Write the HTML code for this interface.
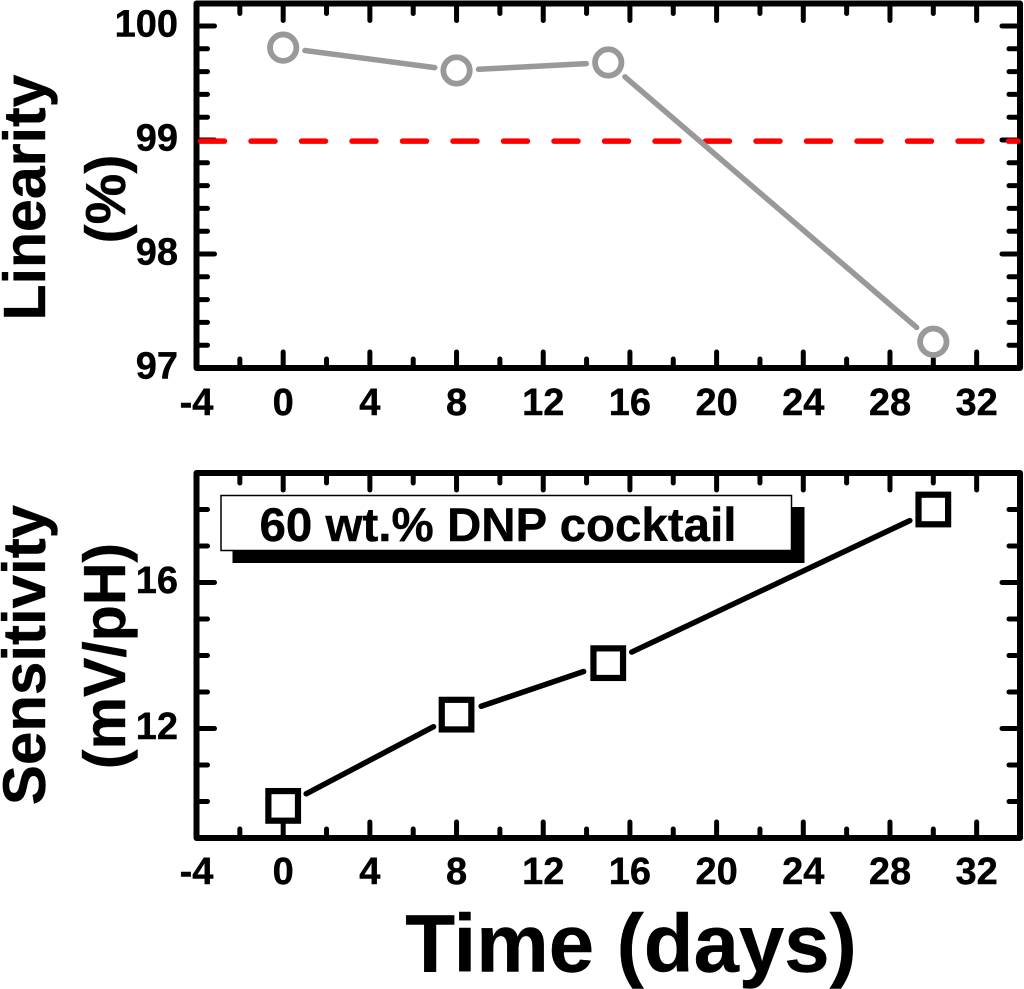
<!DOCTYPE html>
<html lang="en">
<head>
<meta charset="utf-8">
<title>Linearity and sensitivity over time</title>
<style>
html,body{margin:0;padding:0;background:#fff;}
svg{display:block;}
text{font-family:"Liberation Sans",Arial,sans-serif;font-weight:bold;fill:#000;stroke:#000;stroke-width:0.4px;}
</style>
</head>
<body>
<svg id="chart" xmlns="http://www.w3.org/2000/svg" width="1024" height="989" viewBox="0 0 1024 989">
  <g id="top-panel"></g>
  <g id="bottom-panel"></g>
  <text transform="translate(45,197.5) rotate(-90)" text-anchor="middle" font-size="59">Linearity</text>
  <text transform="translate(125,199) rotate(-90)" text-anchor="middle" font-size="57">(%)</text>
  <text transform="translate(45,655) rotate(-90)" text-anchor="middle" font-size="60">Sensitivity</text>
  <text transform="translate(125,656) rotate(-90)" text-anchor="middle" font-size="59">(mV/pH)</text>
  <text x="631" y="971.5" text-anchor="middle" font-size="81.5">Time (days)</text>
  <g>
    <rect x="232.5" y="507" width="572" height="56" fill="#000"/>
    <rect x="221" y="495.5" width="570.5" height="55" fill="#fff" stroke="#000" stroke-width="1.5"/>
    <text x="498" y="541" text-anchor="middle" font-size="47.5">60 wt.% DNP cocktail</text>
  </g>
</svg>
<script>
// x-axis (shared)
const days = [0, 8, 15, 30];
const xMajorTicks = [-4, 0, 4, 8, 12, 16, 20, 24, 28, 32];
const xMinorTicks = [-2, 2, 6, 10, 14, 18, 22, 26, 30];
const xDomain = [-4, 34];

// linearity panel
const linearityValues = [99.81, 99.61, 99.68, 97.23];
const linearityThreshold = [98.99];
const linearityMajorTicks = [97, 98, 99, 100];
const linearityMinorTicks = [97.2, 97.4, 97.6, 97.8, 98.2, 98.4, 98.6, 98.8, 99.2, 99.4, 99.6, 99.8];
const linearityDomain = [97, 100.2];

// sensitivity panel
const sensitivityValues = [9.88, 12.38, 13.79, 18.0];
const sensitivityMajorTicks = [12, 16];
const sensitivityMinorTicks = [10, 11, 13, 14, 15, 17, 18];
const sensitivityDomain = [9, 19];

const NS = 'http://www.w3.org/2000/svg';
const PLOT_LEFT = 196.5, PLOT_RIGHT = 1020;

function mk(tag, attrs, parent) {
  const node = document.createElementNS(NS, tag);
  for (const k in attrs) node.setAttribute(k, attrs[k]);
  parent.appendChild(node);
  return node;
}
function xScale(v) {
  return PLOT_LEFT + (v - xDomain[0]) / (xDomain[1] - xDomain[0]) * (PLOT_RIGHT - PLOT_LEFT);
}
function makeY(domain, bottom, top) {
  return function (v) {
    return bottom - (v - domain[0]) / (domain[1] - domain[0]) * (bottom - top);
  };
}
function tickLine(parent, x1, y1, x2, y2, name) {
  const t = mk('line', {x1: x1, y1: y1, x2: x2, y2: y2, stroke: '#000', 'stroke-width': 5, 'stroke-linecap': 'round'}, parent);
  
  
}
function drawAxes(parent, yFn, top, bottom, yMajor, yMinor, prefix, xLabelOffset) {
  const frame = mk('rect', {x: PLOT_LEFT, y: top, width: PLOT_RIGHT - PLOT_LEFT, height: bottom - top, fill: 'none', stroke: '#000', 'stroke-width': 6, 'stroke-linejoin': 'round'}, parent);
  
  

  xMajorTicks.forEach(function (v) {
    const x = xScale(v);
    if (v !== xDomain[0]) {
      tickLine(parent, x, bottom, x, bottom - 16, prefix + '-x-major-tick');
      tickLine(parent, x, top, x, top + 17, prefix + '-x-major-tick-top');
    }
    const label = mk('text', {x: x, y: bottom + xLabelOffset, 'text-anchor': 'middle', 'font-size': 38}, parent);
    
    
    label.textContent = String(v);
  });
  xMinorTicks.forEach(function (v) {
    const x = xScale(v);
    tickLine(parent, x, bottom, x, bottom - 9, prefix + '-x-minor-tick');
    tickLine(parent, x, top, x, top + 10, prefix + '-x-minor-tick-top');
  });
  yMajor.forEach(function (v) {
    const y = yFn(v);
    if (y < bottom - 1) {
      tickLine(parent, PLOT_LEFT, y, PLOT_LEFT + 18, y, prefix + '-y-major-tick');
      tickLine(parent, PLOT_RIGHT, y, PLOT_RIGHT - 18, y, prefix + '-y-major-tick-right');
    }
    const label = mk('text', {x: 178, y: y + 10.5, 'text-anchor': 'end', 'font-size': 38}, parent);
    
    
    label.textContent = String(v);
  });
  yMinor.forEach(function (v) {
    const y = yFn(v);
    tickLine(parent, PLOT_LEFT, y, PLOT_LEFT + 11, y, prefix + '-y-minor-tick');
    tickLine(parent, PLOT_RIGHT, y, PLOT_RIGHT - 11, y, prefix + '-y-minor-tick-right');
  });
}
function drawGappedLine(parent, xs, ys, yFn, color, width, gap, name) {
  for (let i = 0; i < xs.length - 1; i++) {
    const ax = xScale(xs[i]), ay = yFn(ys[i]);
    const bx = xScale(xs[i + 1]), by = yFn(ys[i + 1]);
    const len = Math.hypot(bx - ax, by - ay);
    const ux = (bx - ax) / len, uy = (by - ay) / len;
    const seg = mk('line', {x1: ax + ux * gap, y1: ay + uy * gap, x2: bx - ux * gap, y2: by - uy * gap, stroke: color, 'stroke-width': width, 'stroke-linecap': 'round'}, parent);
    
    
  }
}

// top panel
const topPanel = document.getElementById('top-panel');
const TOP_A = 3.5, BOTTOM_A = 368;
const yLinearity = makeY(linearityDomain, BOTTOM_A, BOTTOM_A - (linearityDomain[1] - linearityDomain[0]) * 114);
drawAxes(topPanel, yLinearity, TOP_A, BOTTOM_A, linearityMajorTicks, linearityMinorTicks, 'linearity', 47);

const threshold = mk('line', {x1: PLOT_LEFT + 4, y1: yLinearity(linearityThreshold[0]), x2: PLOT_RIGHT - 2, y2: yLinearity(linearityThreshold[0]), stroke: '#ff0000', 'stroke-width': 5.5, 'stroke-dasharray': '24 26.5', 'stroke-linecap': 'round'}, topPanel);



drawGappedLine(topPanel, days, linearityValues, yLinearity, '#999999', 5.5, 22, 'linearity-line-segment');
days.forEach(function (d, i) {
  const c = mk('circle', {cx: xScale(d), cy: yLinearity(linearityValues[i]), r: 13.2, fill: 'none', stroke: '#999999', 'stroke-width': 5.8}, topPanel);
  
  
});

// bottom panel
const bottomPanel = document.getElementById('bottom-panel');
const TOP_B = 473, BOTTOM_B = 838;
const ySensitivity = makeY(sensitivityDomain, BOTTOM_B, TOP_B);
drawAxes(bottomPanel, ySensitivity, TOP_B, BOTTOM_B, sensitivityMajorTicks, sensitivityMinorTicks, 'sensitivity', 46);

drawGappedLine(bottomPanel, days, sensitivityValues, ySensitivity, '#000000', 5.5, 26, 'sensitivity-line-segment');
days.forEach(function (d, i) {
  const half = 14.8;
  const s = mk('rect', {x: xScale(d) - half, y: ySensitivity(sensitivityValues[i]) - half, width: half * 2, height: half * 2, fill: 'none', stroke: '#000', 'stroke-width': 6.2}, bottomPanel);
  
  
});
</script>
</body>
</html>
